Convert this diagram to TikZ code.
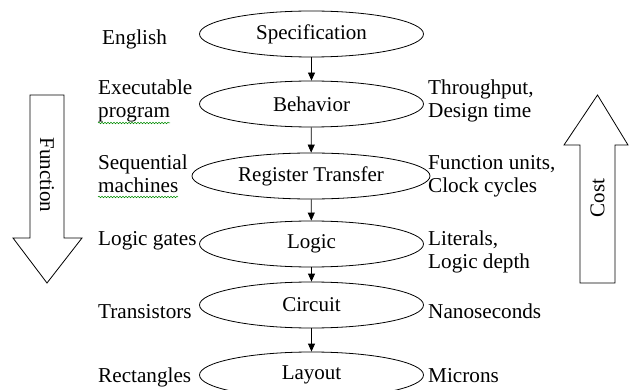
\documentclass[tikz,border=0pt]{standalone}
\usepackage{fontspec}
\setmainfont{Liberation Serif}
\usetikzlibrary{arrows.meta,shapes.geometric,decorations.pathmorphing}

\begin{document}
\begin{tikzpicture}[x=1pt,y=-1pt,>={Triangle[length=8pt,width=7pt]},
 level/.style={ellipse,draw,line width=0.8pt,minimum width=224pt,minimum height=46pt,inner sep=0pt,font=\fontsize{21}{23}\selectfont},
 side/.style={anchor=base west,align=left,inner sep=0pt,font=\fontsize{21.2}{23}\selectfont},
 flow/.style={->,line width=0.8pt},
 bigarrow/.style={draw,line width=0.8pt,line join=miter},
 squiggle/.style={green!55!black,line width=0.5pt,decorate,decoration={snake,segment length=3pt,amplitude=0.8pt}}]
\clip (0,0) rectangle (629,390); \useasboundingbox (0,0) rectangle (629,390);
% levels of abstraction
\node[level] (spec) at (311.5,34) {Specification};
\node[level] (beh) at (311.5,104) {Behavior};
\node[level,minimum width=238pt] (rt) at (311,176) {Register Transfer};
\node[level] (logic) at (311.5,244) {Logic};
\node[level] (circ) at (311.5,305) {Circuit};
\node[level] (lay) at (311.5,375) {Layout};
\draw[flow] (spec)--(beh); \draw[flow] (beh)--(rt); \draw[flow] (rt)--(logic);
\draw[flow] (logic)--(circ); \draw[flow] (circ)--(lay);
% left column (base = last line)
\node[side] (eng) at (102,45) {English};
\node[side] (exe) at (98,118) {Executable\\program};
\node[side] (seq) at (98,193) {Sequential\\machines};
\node[side] (gates) at (98,245) {Logic gates};
\node[side] (trans) at (98,318) {Transistors};
\node[side] (rect) at (98,382) {Rectangles};
\draw[squiggle] (98,123)--(170,123); \draw[squiggle] (98,197)--(178,197);
% right column
\node[side] (thr) at (428,118) {Throughput,\\Design time};
\node[side] (fu) at (428,193) {Function units,\\Clock cycles};
\node[side] (lit) at (428,268) {Literals,\\Logic depth};
\node[side] (ns) at (428,318) {Nanoseconds};
\node[side] (mic) at (428,382) {Microns};
% block arrows
\draw[bigarrow] (30,95)--(64,95)--(64,238)--(82,238)--(47,283)--(13,238)--(30,238)--cycle;
\node[rotate=-90,font=\fontsize{21}{23}\selectfont] (func) at (47,175) {Function};
\draw[bigarrow] (580,283)--(615,283)--(615,145)--(628,145)--(597.5,95)--(564,145)--(580,145)--cycle;
\node[rotate=90,font=\fontsize{21}{23}\selectfont] (cost) at (597.5,198) {Cost};
\end{tikzpicture}
\end{document}
